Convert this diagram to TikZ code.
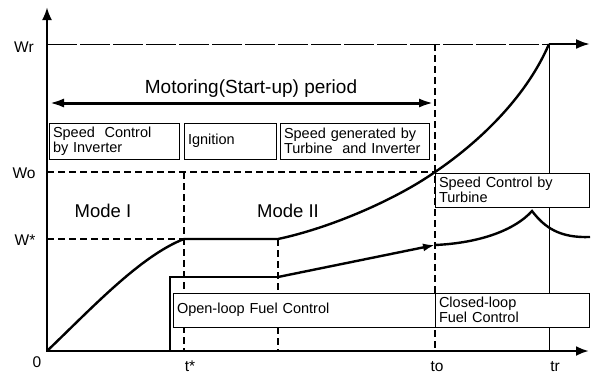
\documentclass[tikz,border=0pt]{standalone}
\usepackage{fontspec}
\setmainfont{Liberation Sans}
\usetikzlibrary{arrows.meta}

\begin{document}
\begin{tikzpicture}[x=1pt, y=-1pt,
	axis/.style={line width=2.6pt, {Latex[length=13pt,width=10pt]}-{Latex[length=13pt,width=10pt]}},
	guide/.style={line width=1.1pt, dash pattern=on 7pt off 4pt},
	curve/.style={line width=2.4pt},
	box/.style={draw, fill=white, line width=0.9pt, align=left, inner xsep=4pt, inner ysep=0pt, font=\fontsize{14.5}{15}\selectfont},
	tick/.style={font=\fontsize{15.5}{17}\selectfont, inner sep=0pt, anchor=base},
	mode/.style={font=\fontsize{18.5}{20}\selectfont, inner sep=0pt, anchor=base}]
	\useasboundingbox (0,0) rectangle (592,373);
	% axes and tick positions
	\coordinate (O) at (47,351);
	\coordinate (ytop) at (47,7);
	\coordinate (xend) at (589,351);
	\coordinate (Wr) at (47,44);
	\coordinate (Wo) at (47,172);
	\coordinate (Ws) at (47,239);
	\coordinate (ts) at (184,351);
	\coordinate (tm) at (278,351);
	\coordinate (to) at (435,351);
	\coordinate (tr) at (549,351);
	\draw[guide] (Wo) -- (to |- Wo);
	\draw[guide] (Ws) -- (ts |- Ws);
	\draw[guide] (ts |- Wo) -- (ts);
	\draw[guide] (tm |- Ws) -- (tm);
	\draw[guide] (to |- Wr) -- (to);
	\draw[line width=0.9pt, dash pattern=on 30pt off 3pt] (Wr) -- (tr |- Wr);
	\draw[line width=0.9pt] (tr |- Wr) -- (tr);
	\draw[axis] (ytop) -- (O) -- (xend);
	\node[tick] (lWr) at (24,52) {Wr};
	\node[tick] (lWo) at (24,178) {Wo};
	\node[tick] (lWs) at (25,245) {W*};
	\node[tick] (l0) at (37,367) {0};
	\node[tick] (lts) at (190,371) {t*};
	\node[tick] (lto) at (437,371) {to};
	\node[tick] (ltr) at (555,371) {tr};
	% start-up period
	\coordinate (ms) at (49,103);
	\coordinate (me) at (434,103);
	\draw[line width=3pt, {Latex[length=15pt,width=9pt]}-{Latex[length=15pt,width=9pt]}] (ms) -- (me);
	\node[font=\fontsize{19}{21}\selectfont, inner sep=0pt, anchor=base] (title) at (251,93) {Motoring(Start-up) period};
	\node[mode] (mode1) at (103,217) {Mode I};
	\node[mode] (mode2) at (288,217) {Mode II};
	% boxes
	\node[box, minimum height=36pt, text width=122pt] (inv) at (114,141) {Speed\ \ Control\\by Inverter};
	\node[box, minimum height=36pt, text width=84pt] (ign) at (230,141) {Ignition};
	\node[box, minimum height=36pt, text width=141pt] (gen) at (354.5,141) {Speed generated by\\Turbine\ \ and Inverter};
	\node[box, minimum height=34pt, text width=146pt] (turb) at (512,190) {Speed Control by\\Turbine};
	\node[box, minimum height=34pt, text width=254pt] (open) at (304,310) {Open-loop Fuel Control};
	\node[box, minimum height=34pt, text width=146pt] (closed) at (512,310) {Closed-loop\\Fuel Control};
	% speed
	\draw[curve] (O) .. controls (90,310) and (140,256) .. (ts |- Ws) -- (tm |- Ws)
		.. controls (330,228) and (395,200) .. (to |- Wo)
		.. controls (475,145) and (525,100) .. (tr |- Wr);
	\coordinate (wend) at (590,44);
	\draw[curve, -{Latex[length=14pt,width=10pt]}] (tr |- Wr) -- (wend);
	% fuel
	\coordinate (f1) at (170,277);
	\coordinate (f2) at (278,277);
	\coordinate (f3) at (435,245);
	\coordinate (peak) at (532,211);
	\coordinate (fend) at (590,237);
	\draw[curve] (170,351) -- (f1) -- (f2);
	\draw[curve, -{Latex[length=12pt,width=8pt]}] (f2) -- (f3);
	\draw[curve] (f3) .. controls (480,243) and (515,230) .. (peak)
		.. controls (545,228) and (560,238) .. (fend);
\end{tikzpicture}
\end{document}
